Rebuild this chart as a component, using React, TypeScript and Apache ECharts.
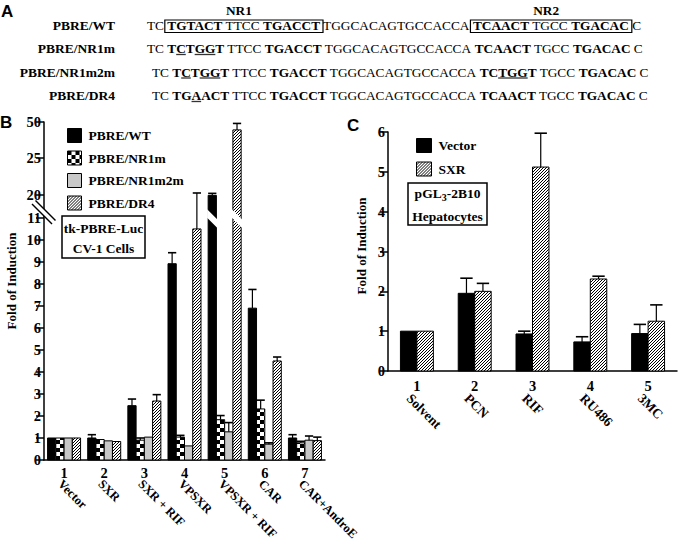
import React, { useEffect, useRef } from 'react';
import * as echarts from 'echarts';

const SERIF = 'Liberation Serif, serif';
const SANS = 'Liberation Sans, sans-serif';

// ---------- Panel A (sequences) ----------
const seqLabels = ['PBRE/WT', 'PBRE/NR1m', 'PBRE/NR1m2m', 'PBRE/DR4'];
// [..] bold, {..} boxed, lowercase = underlined (mutated) base
const seqRows = [
  'TC {[TGTACT] TTCC [TGACCT]} TGGCACAGTGCCACCA {[TCAACT] TGCC [TGACAC]} C',
  'TC [TcTggT] TTCC [TGACCT] TGGCACAGTGCCACCA [TCAACT] TGCC [TGACAC] C',
  'TC [TcTggT] TTCC [TGACCT] TGGCACAGTGCCACCA [TCtggT] TGCC [TGACAC] C',
  'TC [TGaACT] TTCC [TGACCT] TGGCACAGTGCCACCA [TCAACT] TGCC [TGACAC] C',
];
const siteLabels = ['NR1', 'NR2'];

// ---------- Panel B ----------
const bNumbers = ['1', '2', '3', '4', '5', '6', '7'];
const bCategories = ['Vector', 'SXR', 'SXR + RIF', 'VPSXR', 'VPSXR + RIF', 'CAR', 'CAR+AndroE'];
const bSeriesNames = ['PBRE/WT', 'PBRE/NR1m', 'PBRE/NR1m2m', 'PBRE/DR4'];
const bWT = [1.0, 1.0, 2.47, 8.92, 19.8, 6.9, 1.0];
const bWTErr = [null, 1.15, 2.77, 9.42, 20.2, 7.75, 1.15];
const bNR1m = [1.0, 0.93, 0.9, 1.04, 1.83, 2.32, 0.78];
const bNR1mErr = [null, null, 1.0, 1.12, 2.02, 2.72, 0.85];
const bNR1m2m = [1.0, 0.87, 1.04, 0.64, 1.28, 0.72, 0.9];
const bNR1m2mErr = [null, null, null, null, 1.7, 0.78, 1.09];
const bDR4 = [1.0, 0.84, 2.68, 10.5, 44.5, 4.5, 0.88];
const bDR4Err = [null, null, 2.97, 20.25, 49.0, 4.68, 1.04];
const bLowTicks = [0, 1, 2, 3, 4, 5, 6, 7, 8, 9, 10, 11];
const bHighTicks = [20, 25, 50];
// broken axis: value -> display units
const bBreakValues = [0, 11, 20, 25, 50];
const bBreakDisplay = [0, 11, 12.05, 13.73, 15.36];

// ---------- Panel C ----------
const cNumbers = ['1', '2', '3', '4', '5'];
const cCategories = ['Solvent', 'PCN', 'RIF', 'RU486', '3MC'];
const cSeriesNames = ['Vector', 'SXR'];
const cVector = [1.0, 1.95, 0.93, 0.73, 0.94];
const cVectorErr = [null, 2.33, 1.0, 0.86, 1.17];
const cSXR = [1.0, 2.0, 5.12, 2.31, 1.25];
const cSXRErr = [null, 2.2, 5.97, 2.38, 1.66];

function bScale(v: number): number {
  for (let i = 1; i < bBreakValues.length; i++) {
    if (v <= bBreakValues[i] || i === bBreakValues.length - 1) {
      const v0 = bBreakValues[i - 1], v1 = bBreakValues[i];
      const d0 = bBreakDisplay[i - 1], d1 = bBreakDisplay[i];
      return d0 + ((v - v0) / (v1 - v0)) * (d1 - d0);
    }
  }
  return v;
}

function makePattern(kind: string): any {
  const c = document.createElement('canvas');
  const size = kind === 'checker' ? 8 : 3;
  c.width = size;
  c.height = size;
  const g = c.getContext('2d')!;
  g.fillStyle = '#fff';
  g.fillRect(0, 0, size, size);
  g.fillStyle = '#000';
  if (kind === 'checker') {
    g.fillRect(0, 0, 4, 4);
    g.fillRect(4, 4, 4, 4);
  } else {
    for (let i = 0; i < size; i++) g.fillRect(i, size - 1 - i, 1, 1);
  }
  return { image: c, repeat: 'repeat', imageWidth: size, imageHeight: size };
}

const mctx = document.createElement('canvas').getContext('2d')!;
function measure(text: string, size: number, bold: boolean, family = SERIF): number {
  mctx.font = `${bold ? 'bold ' : ''}${size}px ${family}`;
  return mctx.measureText(text).width;
}

function barRenderer(o: { index: number; count: number; ratio: number; fill: any; capRatio: number; gapAt?: number; gapH?: number }) {
  return (params: any, api: any) => {
    const cat = api.value(0);
    const v = api.value(1);
    const e = api.value(2);
    const base = api.coord([cat, 0]);
    const top = api.coord([cat, v]);
    const cw = api.size([1, 0])[0];
    const bw = cw * o.ratio;
    const x = base[0] - (bw * o.count) / 2 + bw * o.index;
    const cx = x + bw / 2;
    const children: any[] = [
      { type: 'rect', shape: { x, y: top[1], width: bw, height: base[1] - top[1] }, style: { fill: o.fill, stroke: '#000', lineWidth: 1 } },
    ];
    if (o.gapAt != null && v > o.gapAt) {
      const yl = api.coord([cat, o.gapAt])[1];
      const h = o.gapH || 8;
      children.push({
        type: 'polygon',
        shape: { points: [[x - 1, yl], [x + bw + 1, yl + bw + 2], [x + bw + 1, yl + bw + 2 + h], [x - 1, yl + h]] },
        style: { fill: '#fff', stroke: null },
      });
    }
    if (e > v) {
      const et = api.coord([cat, e])[1];
      const cap = (bw * o.capRatio) / 2;
      children.push({ type: 'line', shape: { x1: cx, y1: top[1], x2: cx, y2: et }, style: { stroke: '#000', lineWidth: 1.2 } });
      children.push({ type: 'line', shape: { x1: cx - cap, y1: et, x2: cx + cap, y2: et }, style: { stroke: '#000', lineWidth: 1.6 } });
    }
    return { type: 'group', children };
  };
}

function seqGraphics(): any[] {
  const els: any[] = [];
  const FS = 13.3;
  const rowY = [25.5, 48.5, 72, 95.5];
  const rowX = [147, 147, 152, 152];
  seqRows.forEach((row, r) => {
    const y = rowY[r];
    els.push({
      type: 'text', x: 115, y,
      style: { text: seqLabels[r], fill: '#000', font: `bold 13.5px ${SERIF}`, textAlign: 'right', textVerticalAlign: 'middle' },
    });
    let runX = rowX[r];
    let run = '';
    let runBold = false;
    let runU = false;
    let bold = false;
    let boxStart = 0;
    const boxes: number[][] = [];
    const flush = () => {
      if (!run) return;
      const w = measure(run, FS, runBold);
      els.push({
        type: 'text', x: runX, y,
        style: { text: run, fill: '#000', font: `${runBold ? 'bold ' : ''}${FS}px ${SERIF}`, textAlign: 'left', textVerticalAlign: 'middle' },
      });
      if (runU) {
        els.push({ type: 'line', shape: { x1: runX, y1: y + 6, x2: runX + w, y2: y + 6 }, style: { stroke: '#333', lineWidth: 1.3 } });
      }
      runX += w;
      run = '';
    };
    for (const ch of row) {
      if (ch === '[') { flush(); bold = true; continue; }
      if (ch === ']') { flush(); bold = false; continue; }
      if (ch === '{') { flush(); boxStart = runX; continue; }
      if (ch === '}') { flush(); boxes.push([boxStart, runX]); continue; }
      const u = ch !== ch.toUpperCase();
      if (run && (bold !== runBold || u !== runU)) flush();
      if (!run) { runBold = bold; runU = u; }
      run += ch.toUpperCase();
    }
    flush();
    boxes.forEach((b, i) => {
      const x0 = b[0] - 2.5;
      const x1 = b[1] + 3;
      els.push({ type: 'rect', shape: { x: x0, y: y - 5.5, width: x1 - x0, height: 12.5 }, style: { fill: null, stroke: '#000', lineWidth: 1.2 } });
      els.push({
        type: 'text', x: (x0 + x1) / 2 - 5, y: 10,
        style: { text: siteLabels[i], fill: '#000', font: `bold ${FS}px ${SERIF}`, textAlign: 'center', textVerticalAlign: 'middle' },
      });
    });
  });
  return els;
}

const txt = (text: string, x: number, y: number, size: number, align = 'center', extra: any = {}) => ({
  type: 'text', x, y, ...extra,
  style: { text, fill: '#000', font: `bold ${size}px ${SERIF}`, textAlign: align, textVerticalAlign: 'middle' },
});

function buildOption(): any {
  const solid = '#000';
  const gray = '#c8c8c8';
  const checker = makePattern('checker');
  const hatch = makePattern('hatch');
  const bFills = [solid, checker, gray, hatch];
  const bVals = [bWT, bNR1m, bNR1m2m, bDR4];
  const bErrs = [bWTErr, bNR1mErr, bNR1m2mErr, bDR4Err];
  const cFills = [solid, hatch];
  const cVals = [cVector, cSXR];
  const cErrs = [cVectorErr, cSXRErr];
  const lowDisp = bLowTicks.map(bScale);
  const highDisp = bHighTicks.map(bScale);
  const bMax = bBreakDisplay[bBreakDisplay.length - 1];

  const axisLine = { lineStyle: { color: '#000', width: 1.5 } };
  const labelFont = { color: '#000', fontFamily: SERIF, fontWeight: 'bold', fontSize: 14.5 };
  const tickStyle = { color: '#000', width: 1.5 };

  const nearest = (list: number[], labels: number[]) => (val: any) => {
    let best = -1;
    let bestD = 0.05;
    list.forEach((d, i) => {
      const dd = Math.abs(d - Number(val));
      if (dd < bestD) { bestD = dd; best = i; }
    });
    return best >= 0 ? String(labels[best]) : '';
  };

  const bSeries = bSeriesNames.map((name, k) => ({
    type: 'custom', name, xAxisIndex: 0, yAxisIndex: 0,
    itemStyle: { color: bFills[k], borderColor: '#000', borderWidth: 1 },
    renderItem: barRenderer({ index: k, count: 4, ratio: 0.2055, fill: bFills[k], capRatio: 1.0, gapAt: 11.4, gapH: 8.5 }),
    encode: { x: 0, y: 1 },
    data: bVals[k].map((v, i) => [i, bScale(v), bErrs[k][i] == null ? -1 : bScale(bErrs[k][i] as number)]),
  }));
  const cSeries = cSeriesNames.map((name, k) => ({
    type: 'custom', name, xAxisIndex: 1, yAxisIndex: 1,
    itemStyle: { color: cFills[k], borderColor: '#000', borderWidth: 1 },
    renderItem: barRenderer({ index: k, count: 2, ratio: 0.285, fill: cFills[k], capRatio: 0.75 }),
    encode: { x: 0, y: 1 },
    data: cVals[k].map((v, i) => [i, v, cErrs[k][i] == null ? -1 : (cErrs[k][i] as number)]),
  }));

  const legendBase = {
    orient: 'vertical', icon: 'rect', selectedMode: false,
    textStyle: { fontFamily: SERIF, fontWeight: 'bold', fontSize: 13.5, color: '#000', padding: [0, 0, 0, 2] },
    itemStyle: { borderColor: '#000', borderWidth: 1 },
  };

  // composite "pGL3-2B10"
  const pFS = 13.5;
  const w1 = measure('pGL', pFS, true);
  const w2 = measure('3', 10, true);
  const w3 = measure('-2B10', pFS, true);
  const pStart = 447.5 - (w1 + w2 + w3) / 2;

  const graphic: any[] = [
    ...seqGraphics(),
    { type: 'text', x: 1, y: 11, style: { text: 'A', fill: '#000', font: `bold 17px ${SANS}`, textVerticalAlign: 'middle' } },
    { type: 'text', x: 0, y: 122, style: { text: 'B', fill: '#000', font: `bold 17px ${SANS}`, textVerticalAlign: 'middle' } },
    { type: 'text', x: 347, y: 125, style: { text: 'C', fill: '#000', font: `bold 17px ${SANS}`, textVerticalAlign: 'middle' } },
    txt('Fold of Induction', 11, 281, 13, 'center', { rotation: Math.PI / 2 }),
    txt('Fold of Induction', 361, 246, 13, 'center', { rotation: Math.PI / 2 }),
    { type: 'rect', shape: { x: 62, y: 216, width: 83, height: 42 }, style: { fill: '#fff', stroke: '#000', lineWidth: 1.5 } },
    txt('tk-PBRE-Luc', 103.5, 228, 13.5),
    txt('CV-1 Cells', 103.5, 248, 13.5),
    { type: 'rect', shape: { x: 408, y: 183, width: 79, height: 42 }, style: { fill: '#fff', stroke: '#000', lineWidth: 1.5 } },
    txt('pGL', pStart, 193, pFS, 'left'),
    txt('3', pStart + w1, 197, 10, 'left'),
    txt('-2B10', pStart + w1 + w2, 193, pFS, 'left'),
    txt('Hepatocytes', 447.5, 216, 13.5),
    // axis break marks on B's y axis
    { type: 'polygon', z: 100, shape: { points: [[32, 204], [35.5, 200.5], [55.5, 220.5], [52, 224]] }, style: { fill: '#fff', stroke: null } },
    { type: 'line', z: 101, shape: { x1: 32, y1: 204, x2: 52, y2: 224 }, style: { stroke: '#000', lineWidth: 1.5 } },
    { type: 'line', z: 101, shape: { x1: 35.5, y1: 200.5, x2: 55.5, y2: 220.5 }, style: { stroke: '#000', lineWidth: 1.5 } },
  ];

  return {
    animation: false,
    backgroundColor: '#fff',
    grid: [
      { left: 44, top: 122, width: 281, height: 338 },
      { left: 388, top: 132, width: 289, height: 239 },
    ],
    xAxis: [
      {
        type: 'category', gridIndex: 0, data: bNumbers, axisLine,
        axisTick: { length: 7, lineStyle: tickStyle },
        axisLabel: { ...labelFont, margin: 5, interval: 0 },
      },
      {
        type: 'category', gridIndex: 1, data: cNumbers, axisLine,
        axisTick: { length: 7, lineStyle: tickStyle },
        axisLabel: { ...labelFont, margin: 7, interval: 0 },
      },
    ],
    yAxis: [
      {
        type: 'value', gridIndex: 0, min: 0, max: bMax,
        axisLine: { show: true, ...axisLine },
        axisTick: { show: true, length: 8, customValues: lowDisp, lineStyle: tickStyle },
        axisLabel: { ...labelFont, margin: 3, customValues: lowDisp, formatter: nearest(lowDisp, bLowTicks) },
        splitLine: { show: false },
      },
      {
        type: 'value', gridIndex: 1, min: 0, max: 6, interval: 1,
        axisLine: { show: true, ...axisLine },
        axisTick: { show: true, length: 8, lineStyle: tickStyle },
        axisLabel: { ...labelFont, margin: 3 },
        splitLine: { show: false },
      },
      {
        type: 'value', gridIndex: 0, position: 'left', offset: 0, min: 0, max: bMax,
        axisLine: { show: false },
        axisTick: { show: true, length: 8, customValues: highDisp, lineStyle: tickStyle },
        axisLabel: { ...labelFont, margin: 3, customValues: highDisp, showMaxLabel: true, showMinLabel: true, formatter: nearest(highDisp, bHighTicks) },
        splitLine: { show: false },
      },
    ],
    legend: [
      { ...legendBase, data: bSeriesNames, left: 62, top: 123, itemWidth: 14, itemHeight: 14, itemGap: 7.5 },
      { ...legendBase, data: cSeriesNames, left: 411, top: 133, itemWidth: 15, itemHeight: 14, itemGap: 8.5 },
    ],
    series: [...bSeries, ...cSeries],
    graphic,
  };
}

export default function App() {
  const ref = useRef<HTMLDivElement>(null);
  useEffect(() => {
    const chart = echarts.init(ref.current!, null, { renderer: 'svg' });
    const option = buildOption();
    chart.setOption(option);
    // rotated category names, anchored at the axis' category positions
    const names: any[] = [];
    const rot = { rotation: -Math.PI / 4 };
    const yB = chart.convertToPixel({ yAxisIndex: 0 }, 0) as number;
    bCategories.forEach((name, i) => {
      const px = chart.convertToPixel({ xAxisIndex: 0 }, i) as number;
      names.push(txt(name, px - 4, yB + 22, 12.5, 'left', rot));
    });
    const yC = chart.convertToPixel({ yAxisIndex: 1 }, 0) as number;
    cCategories.forEach((name, i) => {
      const px = chart.convertToPixel({ xAxisIndex: 1 }, i) as number;
      names.push(txt(name, px - 8, yC + 25, 13.5, 'left', rot));
    });
    chart.setOption({ graphic: [...option.graphic, ...names] });
    return () => chart.dispose();
  }, []);
  return <div ref={ref} style={{ position: 'absolute', left: 0, top: 0, width: 680, height: 544, background: '#fff' }} />;
}
